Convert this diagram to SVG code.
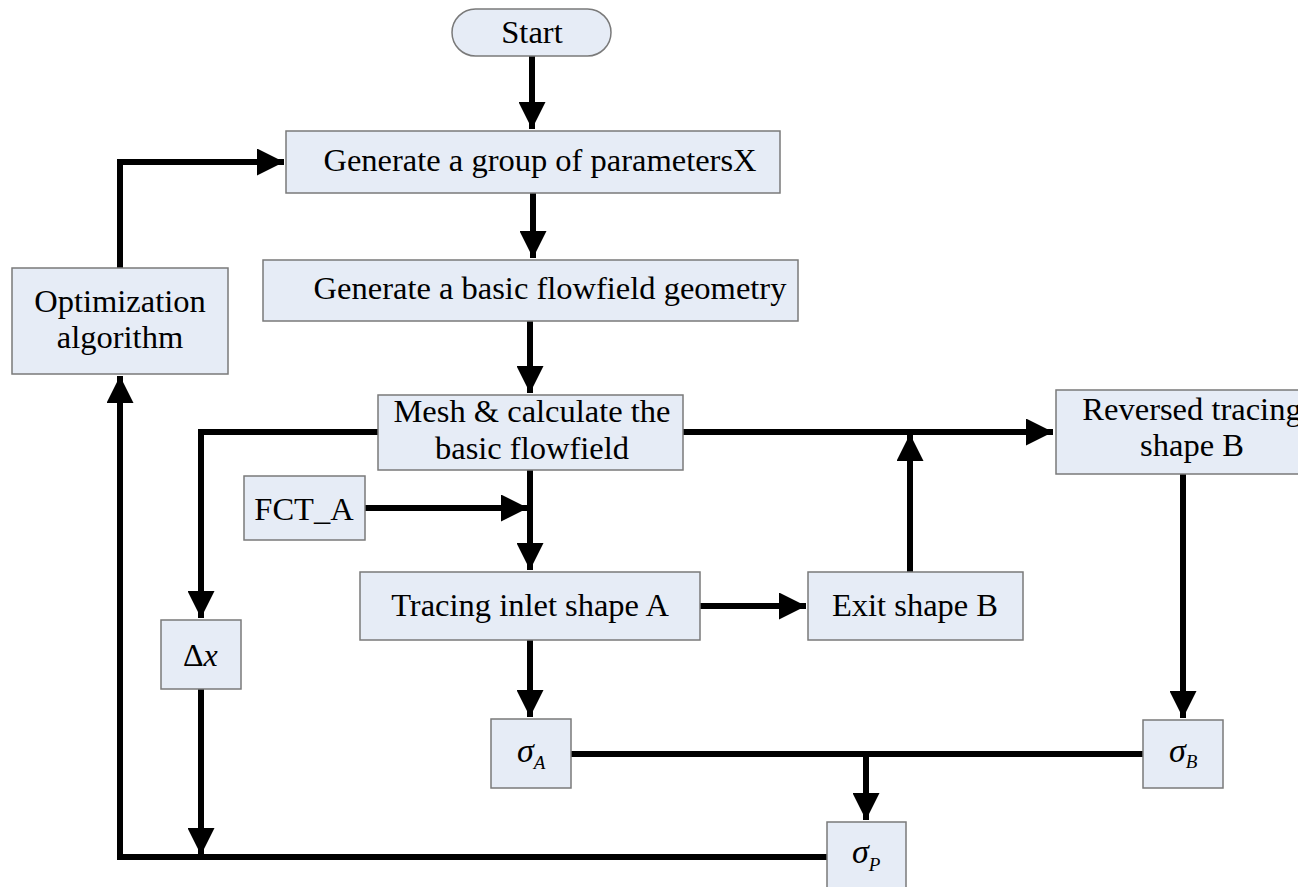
<svg xmlns="http://www.w3.org/2000/svg" width="1298" height="887" viewBox="0 0 1298 887">
<style>
.box{fill:#e6ecf6;stroke:#7a7a7a;stroke-width:1.5}
.t{font-family:'Liberation Serif',serif;font-size:32.5px;fill:#000;text-anchor:middle}
.m{font-family:'Liberation Serif',serif;fill:#000}
.c{fill:none;stroke:#000;stroke-width:6;stroke-linejoin:miter}
</style>
<defs>
<marker id="ah" viewBox="0 0 10 10" refX="10" refY="5" markerWidth="5" markerHeight="4.5" markerUnits="strokeWidth" orient="auto">
<path d="M0,0 L10,5 L0,10 Z" fill="#000"/>
</marker>
</defs>
<rect width="1298" height="887" fill="#fff"/>
<g id="connectors">
<path class="c" d="M532,56 V129" marker-end="url(#ah)"/>
<path class="c" d="M533,193 V258" marker-end="url(#ah)"/>
<path class="c" d="M530,321 V393" marker-end="url(#ah)"/>
<path class="c" d="M120,268 V162 H284" marker-end="url(#ah)"/>
<path class="c" d="M827,857 H120 V376" marker-end="url(#ah)"/>
<path class="c" d="M378,432 H201 V618" marker-end="url(#ah)"/>
<path class="c" d="M201,689 V855" marker-end="url(#ah)"/>
<path class="c" d="M683,432 H1053" marker-end="url(#ah)"/>
<path class="c" d="M910,572 V434" marker-end="url(#ah)"/>
<path class="c" d="M365,508 H528" marker-end="url(#ah)"/>
<path class="c" d="M530,470 V570" marker-end="url(#ah)"/>
<path class="c" d="M700,606 H806" marker-end="url(#ah)"/>
<path class="c" d="M530,640 V717" marker-end="url(#ah)"/>
<path class="c" d="M1183,474 V718" marker-end="url(#ah)"/>
<path class="c" d="M571,754 H1143"/>
<path class="c" d="M866,754 V820" marker-end="url(#ah)"/>
</g>
<g id="nodes" font-family="Liberation Serif, serif">
<g id="start">
<rect class="box" x="452" y="9" width="159" height="47" rx="23.5"/>
<text class="t" x="532" y="43" font-family="Liberation Serif">Start</text>
</g>
<g id="genX">
<rect class="box" x="286" y="131" width="494" height="62"/>
<text class="t" x="540" y="171" font-family="Liberation Serif">Generate a group of parametersX</text>
</g>
<g id="geometry">
<rect class="box" x="263" y="260" width="535" height="61"/>
<text class="t" x="550" y="299" font-family="Liberation Serif">Generate a basic flowfield geometry</text>
</g>
<g id="optim">
<rect class="box" x="12" y="268" width="216" height="106"/>
<text class="t" x="120" y="312" font-family="Liberation Serif">Optimization</text>
<text class="t" x="120" y="348" font-family="Liberation Serif">algorithm</text>
</g>
<g id="mesh">
<rect class="box" x="378" y="395" width="305" height="75"/>
<text class="t" x="532" y="422" font-family="Liberation Serif">Mesh &amp; calculate the</text>
<text class="t" x="532" y="459" font-family="Liberation Serif">basic flowfield</text>
</g>
<g id="reversed">
<rect class="box" x="1056" y="390" width="260" height="84"/>
<text class="t" x="1192" y="420" font-family="Liberation Serif">Reversed tracing</text>
<text class="t" x="1192" y="456" font-family="Liberation Serif">shape B</text>
</g>
<g id="fct">
<rect class="box" x="244" y="476" width="121" height="64"/>
<text class="t" x="304" y="520" font-family="Liberation Serif">FCT_A</text>
</g>
<g id="tracing">
<rect class="box" x="360" y="572" width="340" height="68"/>
<text class="t" x="530" y="616" font-family="Liberation Serif">Tracing inlet shape A</text>
</g>
<g id="exit">
<rect class="box" x="808" y="572" width="215" height="68"/>
<text class="t" x="915" y="616" font-family="Liberation Serif">Exit shape B</text>
</g>
<g id="dx">
<rect class="box" x="161" y="620" width="80" height="69"/>
<text class="m" x="183" y="666" font-size="32" font-family="Liberation Serif">Δ<tspan font-style="italic">x</tspan></text>
</g>
<g id="sigmaA">
<rect class="box" x="491" y="719" width="80" height="69"/>
<text class="m" x="517" y="762" font-size="34" font-style="italic" font-family="Liberation Serif">σ<tspan font-size="19" dy="7">A</tspan></text>
</g>
<g id="sigmaB">
<rect class="box" x="1143" y="720" width="80" height="68"/>
<text class="m" x="1169" y="762" font-size="34" font-style="italic" font-family="Liberation Serif">σ<tspan font-size="19" dy="6">B</tspan></text>
</g>
<g id="sigmaP">
<rect class="box" x="827" y="822" width="79" height="70"/>
<text class="m" x="852" y="863" font-size="34" font-style="italic" font-family="Liberation Serif">σ<tspan font-size="19" dy="8">P</tspan></text>
</g>
</g>
</svg>
